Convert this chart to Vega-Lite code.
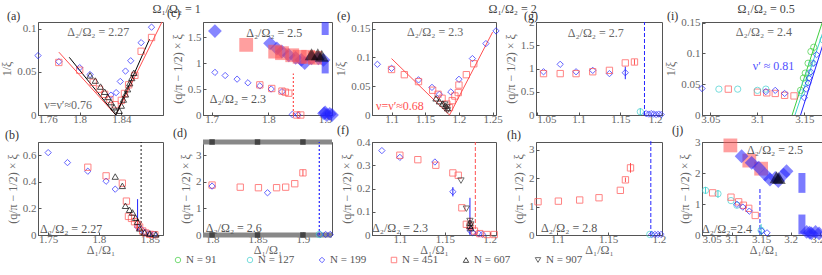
{
"$schema":"https://vega.github.io/schema/vega-lite/v6.json",
"padding":{"left":0,"top":1,"right":0,"bottom":0},
"config":{
 "view":{"stroke":"#555","strokeWidth":1},
 "axis":{"format":"~g","labelFont":"Liberation Serif","labelFontSize":11,"labelColor":"#666","titleFont":"Liberation Serif","titleFontSize":12,"titleFontWeight":"normal","titleColor":"#666","grid":false,"domainColor":"#555","tickColor":"#555","tickSize":-3,"labelPadding":5,"titlePadding":3},
 "axisX":{"labelPadding":1,"titlePadding":0},
 "title":{"font":"Liberation Serif","fontSize":12,"fontWeight":"normal","color":"#333","anchor":"start","frame":"group","offset":-1,"baseline":"alphabetic"}
},
"datasets":{"d":[
{"p":"a","k":"o","s":"199","x":1.76,"y":0.069},{"p":"a","k":"o","s":"199","x":1.78,"y":0.062},{"p":"a","k":"o","s":"199","x":1.8,"y":0.055},{"p":"a","k":"o","s":"199","x":1.81,"y":0.047},{"p":"a","k":"o","s":"199","x":1.83,"y":0.023},{"p":"a","k":"o","s":"199","x":1.835,"y":0.026},{"p":"a","k":"o","s":"199","x":1.839,"y":0.039},{"p":"a","k":"o","s":"199","x":1.844,"y":0.051},{"p":"a","k":"o","s":"199","x":1.849,"y":0.063},{"p":"a","k":"o","s":"199","x":1.859,"y":0.084},{"p":"a","k":"o","s":"199","x":1.869,"y":0.102},
{"p":"a","k":"o","s":"451","x":1.78,"y":0.061},{"p":"a","k":"o","s":"451","x":1.8,"y":0.052},{"p":"a","k":"o","s":"451","x":1.813,"y":0.038},{"p":"a","k":"o","s":"451","x":1.819,"y":0.03},{"p":"a","k":"o","s":"451","x":1.824,"y":0.024},{"p":"a","k":"o","s":"451","x":1.829,"y":0.018},{"p":"a","k":"o","s":"451","x":1.834,"y":0.012},{"p":"a","k":"o","s":"451","x":1.84,"y":0.017},{"p":"a","k":"o","s":"451","x":1.843,"y":0.025},{"p":"a","k":"o","s":"451","x":1.847,"y":0.035},{"p":"a","k":"o","s":"451","x":1.853,"y":0.046},{"p":"a","k":"o","s":"451","x":1.859,"y":0.074},{"p":"a","k":"o","s":"451","x":1.869,"y":0.09},
{"p":"a","k":"o","s":"607","x":1.81,"y":0.046},{"p":"a","k":"o","s":"607","x":1.815,"y":0.04},{"p":"a","k":"o","s":"607","x":1.82,"y":0.033},{"p":"a","k":"o","s":"607","x":1.824,"y":0.027},{"p":"a","k":"o","s":"607","x":1.827,"y":0.021},{"p":"a","k":"o","s":"607","x":1.83,"y":0.015},{"p":"a","k":"o","s":"607","x":1.833,"y":0.009},{"p":"a","k":"o","s":"607","x":1.838,"y":0.005},{"p":"a","k":"o","s":"607","x":1.84,"y":0.011},{"p":"a","k":"o","s":"607","x":1.842,"y":0.018},{"p":"a","k":"o","s":"607","x":1.844,"y":0.024},{"p":"a","k":"o","s":"607","x":1.846,"y":0.03},{"p":"a","k":"o","s":"607","x":1.848,"y":0.037},{"p":"a","k":"o","s":"607","x":1.85,"y":0.043},{"p":"a","k":"o","s":"607","x":1.852,"y":0.049},
{"p":"a","k":"o","s":"907","x":1.835,"y":0.004},
{"p":"a","k":"l","s":"451","x":1.78,"y":0.073},{"p":"a","k":"l","s":"451","x":1.8347,"y":0},{"p":"a","k":"l","s":"451","x":1.879,"y":0.108},
{"p":"a","k":"l","s":"607","x":1.79,"y":0.067},{"p":"a","k":"l","s":"607","x":1.8347,"y":0},{"p":"a","k":"l","s":"607","x":1.867,"y":0.088},
{"p":"a","k":"t","x":1.788,"y":0.096,"t":"Δ₂/Ω₂ = 2.27"},{"p":"a","k":"t","x":1.766,"y":0.0115,"t":"ν=ν′≈0.76"},

{"p":"b","k":"o","s":"199","x":1.75,"y":0.62},{"p":"b","k":"o","s":"199","x":1.769,"y":0.545},{"p":"b","k":"o","s":"199","x":1.789,"y":0.48},{"p":"b","k":"o","s":"199","x":1.807,"y":0.405},{"p":"b","k":"o","s":"199","x":1.816,"y":0.345},{"p":"b","k":"o","s":"199","x":1.838,"y":0.06},{"p":"b","k":"o","s":"199","x":1.842,"y":0.04},{"p":"b","k":"o","s":"199","x":1.846,"y":0.02},{"p":"b","k":"o","s":"199","x":1.85,"y":0.01},{"p":"b","k":"o","s":"199","x":1.854,"y":0.005},
{"p":"b","k":"o","s":"451","x":1.789,"y":0.51},{"p":"b","k":"o","s":"451","x":1.807,"y":0.445},{"p":"b","k":"o","s":"451","x":1.823,"y":0.39},{"p":"b","k":"o","s":"451","x":1.827,"y":0.255},{"p":"b","k":"o","s":"451","x":1.829,"y":0.14},{"p":"b","k":"o","s":"451","x":1.832,"y":0.125},{"p":"b","k":"o","s":"451","x":1.835,"y":0.1},{"p":"b","k":"o","s":"451","x":1.838,"y":0.08},{"p":"b","k":"o","s":"451","x":1.84,"y":0.06},{"p":"b","k":"o","s":"451","x":1.843,"y":0.03},{"p":"b","k":"o","s":"451","x":1.846,"y":0.015},{"p":"b","k":"o","s":"451","x":1.85,"y":0.005},{"p":"b","k":"o","s":"451","x":1.855,"y":0.002},
{"p":"b","k":"o","s":"607","x":1.816,"y":0.44},{"p":"b","k":"o","s":"607","x":1.823,"y":0.37},{"p":"b","k":"o","s":"607","x":1.826,"y":0.22},{"p":"b","k":"o","s":"607","x":1.83,"y":0.19},{"p":"b","k":"o","s":"607","x":1.833,"y":0.17},{"p":"b","k":"o","s":"607","x":1.836,"y":0.13},{"p":"b","k":"o","s":"607","x":1.838,"y":0.1},{"p":"b","k":"o","s":"607","x":1.84,"y":0.05},{"p":"b","k":"o","s":"607","x":1.845,"y":0.02},{"p":"b","k":"o","s":"607","x":1.85,"y":0.01},{"p":"b","k":"o","s":"607","x":1.856,"y":0.005},
{"p":"b","k":"e","s":"199","x":1.838,"y":0.03,"y2":0.27},{"p":"b","k":"e","s":"451","x":1.838,"y":0.04,"y2":0.11},
{"p":"b","k":"v","s":"607","x":1.8415,"y":0,"y2":0.7},
{"p":"b","k":"t","x":1.742,"y":0.045,"t":"Δ₂/Ω₂ = 2.27"},

{"p":"c","k":"f","s":"199","x":1.706,"y":1.615},{"p":"c","k":"f","s":"199","x":1.803,"y":1.38},{"p":"c","k":"f","s":"199","x":1.815,"y":1.28},{"p":"c","k":"f","s":"199","x":1.824,"y":1.22},{"p":"c","k":"f","s":"199","x":1.836,"y":1.15},{"p":"c","k":"f","s":"199","x":1.848,"y":1.1},{"p":"c","k":"f","s":"199","x":1.858,"y":1.06},{"p":"c","k":"f","s":"199","x":1.864,"y":1.0},{"p":"c","k":"f","s":"199","x":1.876,"y":1.09},{"p":"c","k":"f","s":"199","x":1.888,"y":1.09},{"p":"c","k":"f","s":"199","x":1.897,"y":1.06},{"p":"c","k":"f","s":"199","x":1.898,"y":0.03},{"p":"c","k":"f","s":"199","x":1.903,"y":0.0},{"p":"c","k":"f","s":"199","x":1.908,"y":0.02},{"p":"c","k":"f","s":"199","x":1.9,"y":0.05},{"p":"c","k":"f","s":"199","x":1.912,"y":0.0},
{"p":"c","k":"f","s":"451","x":1.761,"y":1.35},{"p":"c","k":"f","s":"451","x":1.812,"y":1.22},{"p":"c","k":"f","s":"451","x":1.824,"y":1.19},{"p":"c","k":"f","s":"451","x":1.842,"y":1.15},{"p":"c","k":"f","s":"451","x":1.855,"y":1.12},{"p":"c","k":"f","s":"451","x":1.87,"y":1.12},{"p":"c","k":"f","s":"451","x":1.882,"y":1.1},
{"p":"c","k":"f","s":"607","x":1.876,"y":1.17},{"p":"c","k":"f","s":"607","x":1.887,"y":1.17},{"p":"c","k":"f","s":"607","x":1.894,"y":1.14},
{"p":"c","k":"o","s":"199","x":1.706,"y":0.82},{"p":"c","k":"o","s":"199","x":1.724,"y":0.76},{"p":"c","k":"o","s":"199","x":1.745,"y":0.69},{"p":"c","k":"o","s":"199","x":1.764,"y":0.62},{"p":"c","k":"o","s":"199","x":1.785,"y":0.56},{"p":"c","k":"o","s":"199","x":1.805,"y":0.5},{"p":"c","k":"o","s":"199","x":1.824,"y":0.45},{"p":"c","k":"o","s":"199","x":1.842,"y":0.01},{"p":"c","k":"o","s":"199","x":1.852,"y":0.0},
{"p":"c","k":"o","s":"451","x":1.785,"y":0.58},{"p":"c","k":"o","s":"451","x":1.806,"y":0.51},{"p":"c","k":"o","s":"451","x":1.824,"y":0.46},{"p":"c","k":"o","s":"451","x":1.83,"y":0.44},{"p":"c","k":"o","s":"451","x":1.836,"y":0.42},{"p":"c","k":"o","s":"451","x":1.85,"y":0.0},{"p":"c","k":"o","s":"451","x":1.857,"y":0.0},
{"p":"c","k":"r","s":"199","x":1.9,"y":1.54,"y2":1.79},{"p":"c","k":"r","s":"199","x":1.9,"y":0.8,"y2":1.06},
{"p":"c","k":"v","s":"451","x":1.844,"y":0,"y2":0.8},
{"p":"c","k":"t","x":1.761,"y":1.57,"t":"Δ₂/Ω₂ = 2.5"},{"p":"c","k":"t","x":1.697,"y":0.31,"t":"Δ₂/Ω₂ = 2.3"},

{"p":"d","k":"g","x":1.79,"x2":1.932,"y":0},{"p":"d","k":"g","x":1.79,"x2":1.932,"y":3.5},
{"p":"d","k":"q","x":1.8,"y":0},{"p":"d","k":"q","x":1.85,"y":0},{"p":"d","k":"q","x":1.9,"y":0},{"p":"d","k":"q","x":1.8,"y":3.5},{"p":"d","k":"q","x":1.85,"y":3.5},{"p":"d","k":"q","x":1.9,"y":3.5},
{"p":"d","k":"o","s":"451","x":1.8,"y":1.88},{"p":"d","k":"o","s":"451","x":1.831,"y":1.8},{"p":"d","k":"o","s":"451","x":1.851,"y":1.78},{"p":"d","k":"o","s":"451","x":1.871,"y":1.78},{"p":"d","k":"o","s":"451","x":1.881,"y":1.8},{"p":"d","k":"o","s":"451","x":1.891,"y":1.93},{"p":"d","k":"o","s":"451","x":1.9,"y":2.34},
{"p":"d","k":"o","s":"199","x":1.8,"y":1.84},{"p":"d","k":"o","s":"199","x":1.861,"y":1.59},{"p":"d","k":"o","s":"199","x":1.919,"y":0.02},{"p":"d","k":"o","s":"199","x":1.925,"y":0.02},{"p":"d","k":"o","s":"199","x":1.93,"y":0.02},{"p":"d","k":"o","s":"127","x":1.918,"y":0.02},
{"p":"d","k":"e","s":"451","x":1.9,"y":2.22,"y2":2.46},
{"p":"d","k":"v","s":"199","x":1.918,"y":0,"y2":3.5},
{"p":"d","k":"t","x":1.793,"y":0.25,"t":"Δ₂/Ω₂ = 2.6"},

{"p":"e","k":"o","s":"199","x":1.079,"y":0.088},{"p":"e","k":"o","s":"199","x":1.1,"y":0.081},{"p":"e","k":"o","s":"199","x":1.14,"y":0.061},{"p":"e","k":"o","s":"199","x":1.16,"y":0.048},{"p":"e","k":"o","s":"199","x":1.171,"y":0.036},{"p":"e","k":"o","s":"199","x":1.188,"y":0.04},{"p":"e","k":"o","s":"199","x":1.2,"y":0.062},{"p":"e","k":"o","s":"199","x":1.22,"y":0.098},{"p":"e","k":"o","s":"199","x":1.24,"y":0.124},{"p":"e","k":"o","s":"199","x":1.255,"y":0.146},
{"p":"e","k":"o","s":"451","x":1.1,"y":0.079},{"p":"e","k":"o","s":"451","x":1.119,"y":0.07},{"p":"e","k":"o","s":"451","x":1.14,"y":0.058},{"p":"e","k":"o","s":"451","x":1.161,"y":0.043},{"p":"e","k":"o","s":"451","x":1.169,"y":0.036},{"p":"e","k":"o","s":"451","x":1.175,"y":0.029},{"p":"e","k":"o","s":"451","x":1.182,"y":0.019},{"p":"e","k":"o","s":"451","x":1.186,"y":0.013},{"p":"e","k":"o","s":"451","x":1.19,"y":0.025},{"p":"e","k":"o","s":"451","x":1.194,"y":0.033},{"p":"e","k":"o","s":"451","x":1.199,"y":0.039},{"p":"e","k":"o","s":"451","x":1.2,"y":0.052},{"p":"e","k":"o","s":"451","x":1.211,"y":0.07},{"p":"e","k":"o","s":"451","x":1.222,"y":0.089},
{"p":"e","k":"o","s":"607","x":1.166,"y":0.029},{"p":"e","k":"o","s":"607","x":1.171,"y":0.024},{"p":"e","k":"o","s":"607","x":1.176,"y":0.02},{"p":"e","k":"o","s":"607","x":1.18,"y":0.016},{"p":"e","k":"o","s":"607","x":1.183,"y":0.012},
{"p":"e","k":"o","s":"907","x":1.179,"y":0.018},{"p":"e","k":"o","s":"907","x":1.182,"y":0.013},{"p":"e","k":"o","s":"907","x":1.183,"y":0.008},
{"p":"e","k":"l","s":"451","x":1.1,"y":0.098},{"p":"e","k":"l","s":"451","x":1.186,"y":0},{"p":"e","k":"l","s":"451","x":1.25,"y":0.144},
{"p":"e","k":"t","x":1.123,"y":0.145,"t":"Δ₂/Ω₂ = 2.3"},{"p":"e","k":"tc","s":"451","x":1.077,"y":0.016,"t":"ν=ν′≈0.68"},

{"p":"f","k":"o","s":"199","x":1.08,"y":0.363},{"p":"f","k":"o","s":"199","x":1.1,"y":0.334},{"p":"f","k":"o","s":"199","x":1.139,"y":0.314},{"p":"f","k":"o","s":"199","x":1.159,"y":0.186},{"p":"f","k":"o","s":"199","x":1.178,"y":0.02},{"p":"f","k":"o","s":"199","x":1.181,"y":0.01},{"p":"f","k":"o","s":"199","x":1.188,"y":0.005},{"p":"f","k":"o","s":"199","x":1.192,"y":0.003},
{"p":"f","k":"o","s":"451","x":1.1,"y":0.343},{"p":"f","k":"o","s":"451","x":1.12,"y":0.324},{"p":"f","k":"o","s":"451","x":1.14,"y":0.3},{"p":"f","k":"o","s":"451","x":1.159,"y":0.267},{"p":"f","k":"o","s":"451","x":1.165,"y":0.257},{"p":"f","k":"o","s":"451","x":1.169,"y":0.117},{"p":"f","k":"o","s":"451","x":1.174,"y":0.046},{"p":"f","k":"o","s":"451","x":1.178,"y":0.039},{"p":"f","k":"o","s":"451","x":1.183,"y":0.017},{"p":"f","k":"o","s":"451","x":1.189,"y":0.006},{"p":"f","k":"o","s":"451","x":1.197,"y":0.002},{"p":"f","k":"o","s":"451","x":1.205,"y":0.002},
{"p":"f","k":"o","s":"607","x":1.178,"y":0.053},{"p":"f","k":"o","s":"607","x":1.178,"y":0.04},{"p":"f","k":"o","s":"607","x":1.179,"y":0.03},
{"p":"f","k":"o","s":"907","x":1.168,"y":0.234},{"p":"f","k":"o","s":"907","x":1.174,"y":0.113},{"p":"f","k":"o","s":"907","x":1.178,"y":0.06},{"p":"f","k":"o","s":"907","x":1.179,"y":0.045},
{"p":"f","k":"e","s":"199","x":1.159,"y":0.166,"y2":0.206},{"p":"f","k":"e","s":"199","x":1.178,"y":0.0,"y2":0.16},{"p":"f","k":"e","s":"451","x":1.178,"y":0.02,"y2":0.075},
{"p":"f","k":"v","s":"451","x":1.184,"y":0,"y2":0.4},
{"p":"f","k":"t","x":1.069,"y":0.03,"t":"Δ₂/Ω₂ = 2.3"},

{"p":"g","k":"o","s":"199","x":1.058,"y":0.93},{"p":"g","k":"o","s":"199","x":1.078,"y":1.09},{"p":"g","k":"o","s":"199","x":1.097,"y":0.93},{"p":"g","k":"o","s":"199","x":1.117,"y":0.96},{"p":"g","k":"o","s":"199","x":1.137,"y":0.89},{"p":"g","k":"o","s":"199","x":1.156,"y":0.91},{"p":"g","k":"o","s":"199","x":1.181,"y":0.03},{"p":"g","k":"o","s":"199","x":1.184,"y":0.02},{"p":"g","k":"o","s":"199","x":1.187,"y":0.03},{"p":"g","k":"o","s":"199","x":1.19,"y":0.02},{"p":"g","k":"o","s":"199","x":1.193,"y":0.01},{"p":"g","k":"o","s":"199","x":1.196,"y":0.02},{"p":"g","k":"o","s":"199","x":1.199,"y":0.01},
{"p":"g","k":"o","s":"451","x":1.058,"y":0.89},{"p":"g","k":"o","s":"451","x":1.078,"y":0.89},{"p":"g","k":"o","s":"451","x":1.097,"y":0.89},{"p":"g","k":"o","s":"451","x":1.117,"y":0.93},{"p":"g","k":"o","s":"451","x":1.137,"y":0.96},{"p":"g","k":"o","s":"451","x":1.156,"y":1.12},{"p":"g","k":"o","s":"451","x":1.167,"y":1.14},
{"p":"g","k":"o","s":"127","x":1.174,"y":0.07},
{"p":"g","k":"e","s":"199","x":1.156,"y":0.77,"y2":1.04},{"p":"g","k":"e","s":"451","x":1.167,"y":1.08,"y2":1.2},{"p":"g","k":"e","s":"127","x":1.174,"y":0.0,"y2":0.15},
{"p":"g","k":"v","s":"199","x":1.179,"y":0,"y2":2},
{"p":"g","k":"t","x":1.087,"y":1.77,"t":"Δ₂/Ω₂ = 2.7"},

{"p":"h","k":"o","s":"451","x":1.081,"y":1.17},{"p":"h","k":"o","s":"451","x":1.101,"y":1.19},{"p":"h","k":"o","s":"451","x":1.122,"y":1.23},{"p":"h","k":"o","s":"451","x":1.141,"y":1.31},{"p":"h","k":"o","s":"451","x":1.162,"y":1.57},{"p":"h","k":"o","s":"451","x":1.167,"y":1.94},{"p":"h","k":"o","s":"451","x":1.172,"y":2.36},
{"p":"h","k":"o","s":"127","x":1.191,"y":0.02},{"p":"h","k":"o","s":"199","x":1.193,"y":0.02},{"p":"h","k":"o","s":"199","x":1.196,"y":0.02},{"p":"h","k":"o","s":"199","x":1.199,"y":0.02},{"p":"h","k":"o","s":"199","x":1.202,"y":0.02},
{"p":"h","k":"e","s":"451","x":1.167,"y":1.86,"y2":2.02},{"p":"h","k":"e","s":"451","x":1.172,"y":2.19,"y2":2.53},
{"p":"h","k":"v","s":"199","x":1.192,"y":0,"y2":3.3},
{"p":"h","k":"t","x":1.084,"y":0.23,"t":"Δ₂/Ω₂ = 2.8"},

{"p":"i","k":"o","s":"451","x":3.069,"y":0.042},{"p":"i","k":"o","s":"451","x":3.1,"y":0.037},{"p":"i","k":"o","s":"451","x":3.11,"y":0.036},{"p":"i","k":"o","s":"451","x":3.119,"y":0.035},{"p":"i","k":"o","s":"451","x":3.129,"y":0.032},{"p":"i","k":"o","s":"451","x":3.139,"y":0.031},
{"p":"i","k":"o","s":"127","x":3.059,"y":0.042},{"p":"i","k":"o","s":"127","x":3.079,"y":0.042},{"p":"i","k":"o","s":"127","x":3.1,"y":0.04},{"p":"i","k":"o","s":"127","x":3.109,"y":0.042},{"p":"i","k":"o","s":"127","x":3.147,"y":0.036},{"p":"i","k":"o","s":"127","x":3.151,"y":0.052},{"p":"i","k":"o","s":"127","x":3.155,"y":0.068},{"p":"i","k":"o","s":"127","x":3.158,"y":0.084},{"p":"i","k":"o","s":"127","x":3.17,"y":0.122},
{"p":"i","k":"o","s":"91","x":3.146,"y":0.04},{"p":"i","k":"o","s":"91","x":3.149,"y":0.06},{"p":"i","k":"o","s":"91","x":3.151,"y":0.068},{"p":"i","k":"o","s":"91","x":3.154,"y":0.084},{"p":"i","k":"o","s":"91","x":3.157,"y":0.103},{"p":"i","k":"o","s":"91","x":3.16,"y":0.11},
{"p":"i","k":"o","s":"199","x":3.041,"y":0.043},{"p":"i","k":"o","s":"199","x":3.109,"y":0.038},{"p":"i","k":"o","s":"199","x":3.119,"y":0.04},{"p":"i","k":"o","s":"199","x":3.129,"y":0.035},{"p":"i","k":"o","s":"199","x":3.15,"y":0.028},{"p":"i","k":"o","s":"199","x":3.152,"y":0.042},{"p":"i","k":"o","s":"199","x":3.154,"y":0.052},{"p":"i","k":"o","s":"199","x":3.155,"y":0.06},{"p":"i","k":"o","s":"199","x":3.157,"y":0.07},{"p":"i","k":"o","s":"199","x":3.16,"y":0.084},{"p":"i","k":"o","s":"199","x":3.163,"y":0.098},
{"p":"i","k":"l","s":"91","x":3.137,"y":0},{"p":"i","k":"l","s":"91","x":3.169,"y":0.15},{"p":"i","k":"l","s":"127","x":3.14,"y":0},{"p":"i","k":"l","s":"127","x":3.171,"y":0.14},{"p":"i","k":"l","s":"199","x":3.146,"y":0},{"p":"i","k":"l","s":"199","x":3.172,"y":0.125},
{"p":"i","k":"t","x":3.077,"y":0.135,"t":"Δ₂/Ω₂ = 2.4"},{"p":"i","k":"tc","s":"199","x":3.095,"y":0.079,"t":"ν′ ≈ 0.81"},

{"p":"j","k":"o","s":"127","x":3.056,"y":1.44},{"p":"j","k":"o","s":"127","x":3.077,"y":1.33},{"p":"j","k":"o","s":"127","x":3.099,"y":1.11},{"p":"j","k":"o","s":"127","x":3.109,"y":0.96},{"p":"j","k":"o","s":"127","x":3.15,"y":0.15},
{"p":"j","k":"o","s":"451","x":3.068,"y":1.36},{"p":"j","k":"o","s":"451","x":3.099,"y":1.22},{"p":"j","k":"o","s":"451","x":3.112,"y":1.07},{"p":"j","k":"o","s":"451","x":3.12,"y":0.96},{"p":"j","k":"o","s":"451","x":3.129,"y":0.86},{"p":"j","k":"o","s":"451","x":3.14,"y":0.63},
{"p":"j","k":"o","s":"199","x":3.109,"y":0.99},{"p":"j","k":"o","s":"199","x":3.119,"y":0.9},{"p":"j","k":"o","s":"199","x":3.13,"y":0.77},{"p":"j","k":"o","s":"199","x":3.151,"y":0.13},{"p":"j","k":"o","s":"199","x":3.16,"y":0.07},
{"p":"j","k":"f","s":"451","x":3.098,"y":2.89},{"p":"j","k":"f","s":"451","x":3.13,"y":2.4},{"p":"j","k":"f","s":"451","x":3.15,"y":2.14},
{"p":"j","k":"f","s":"199","x":3.117,"y":2.54},{"p":"j","k":"f","s":"199","x":3.134,"y":2.33},{"p":"j","k":"f","s":"199","x":3.146,"y":2.17},{"p":"j","k":"f","s":"199","x":3.157,"y":1.95},{"p":"j","k":"f","s":"199","x":3.165,"y":1.79},{"p":"j","k":"f","s":"199","x":3.174,"y":1.84},{"p":"j","k":"f","s":"199","x":3.179,"y":1.74},{"p":"j","k":"f","s":"199","x":3.188,"y":1.95},{"p":"j","k":"f","s":"199","x":3.193,"y":2.06},{"p":"j","k":"f","s":"199","x":3.227,"y":0.1},{"p":"j","k":"f","s":"199","x":3.235,"y":0.05},{"p":"j","k":"f","s":"199","x":3.242,"y":0.1},{"p":"j","k":"f","s":"199","x":3.248,"y":0.05},{"p":"j","k":"f","s":"199","x":3.232,"y":0.08},
{"p":"j","k":"f","s":"607","x":3.176,"y":1.86},{"p":"j","k":"f","s":"607","x":3.18,"y":1.84},
{"p":"j","k":"r","s":"199","x":3.219,"y":1.36,"y2":2.0},{"p":"j","k":"r","s":"199","x":3.219,"y":0.02,"y2":0.66},
{"p":"j","k":"e","s":"127","x":3.056,"y":1.33,"y2":1.55},{"p":"j","k":"e","s":"127","x":3.077,"y":1.2,"y2":1.45},{"p":"j","k":"e","s":"127","x":3.15,"y":0.0,"y2":0.35},
{"p":"j","k":"v","s":"199","x":3.148,"y":0,"y2":1.5},
{"p":"j","k":"t","x":3.126,"y":2.75,"t":"Δ₂/Ω₂ = 2.5"},{"p":"j","k":"t","x":3.05,"y":0.18,"t":"Δ₂/Ω₂=2.4"}
]},
"data":{"name":"d"},
"spacing":-2,
"vconcat":[
{"columns":5,"bounds":"flush","spacing":{"row":27,"column":40},"concat":[
 {"title":{"text":"(a)","dx":-31,"offset":-21},"width":125,"height":93,"resolve":{"axis":{"x":"independent"}},
  "layer":[
  {"encoding":{"x":{"field":"x","type":"quantitative","scale":{"domain":[1.76,1.88],"nice":false,"zero":false},"axis":{"values":[1.76,1.8,1.84],"title":null}},
   "y":{"field":"y","type":"quantitative","scale":{"domain":[0,0.108],"nice":false,"zero":false},"axis":{"values":[0,0.05,0.1],"title":"1/ξ"}}},
  "layer":[
   {"transform":[{"filter":"datum.p=='a'&&datum.k=='l'"}],"mark":{"type":"line","strokeWidth":1},"encoding":{"color":{"field":"s","type":"nominal","scale":{"domain":["91","127","199","451","607","907"],"range":["#3fcf3f","#3fd0d0","#2323ff","#ff5050","#000000","#303030"]},"legend":null}}},
   {"transform":[{"filter":"datum.p=='a'&&datum.k=='o'"}],"mark":{"type":"point","filled":false,"size":40,"strokeWidth":1},"encoding":{"shape":{"field":"s","type":"nominal","scale":{"domain":["91","127","199","451","607","907"],"range":["circle","circle","diamond","square","triangle-up","triangle-down"]},"legend":null},"color":{"field":"s","type":"nominal","legend":null}}},
   {"transform":[{"filter":"datum.p=='a'&&datum.k=='t'"}],"mark":{"type":"text","align":"left","font":"Liberation Serif","fontSize":12,"color":"#666"},"encoding":{"text":{"field":"t","type":"nominal"}}}
  ]},
  {"transform":[{"filter":"datum.p=='zz'"}],"mark":{"type":"point"},"encoding":{"x":{"field":"x","type":"quantitative","axis":{"orient":"top","labels":false,"ticks":false,"domain":false,"title":"Ω₁/Ω₂ = 1","titleX":114,"titleY":-10,"titleAlign":"left","titleAnchor":null,"titleBaseline":"alphabetic","titleAngle":0,"titleColor":"#444"}}}}
  ]},
 {"title":{"text":"(c)","dx":-36},"width":129,"height":93,
  "encoding":{"x":{"field":"x","type":"quantitative","scale":{"domain":[1.685,1.912],"nice":false,"zero":false},"axis":{"values":[1.7,1.8,1.9],"title":null}},
   "y":{"field":"y","type":"quantitative","scale":{"domain":[0,1.79],"nice":false,"zero":false},"axis":{"values":[0,0.5,1,1.5],"title":"(q/π − 1/2) × ξ"}}},
  "layer":[
   {"transform":[{"filter":"datum.p=='c'&&datum.k=='v'"}],"mark":{"type":"rule","strokeDash":[2,2],"strokeWidth":1.2},"encoding":{"y2":{"field":"y2"},"color":{"field":"s","type":"nominal","legend":null}}},
   {"transform":[{"filter":"datum.p=='c'&&datum.k=='r'"}],"mark":{"type":"rule","strokeWidth":7,"opacity":0.6},"encoding":{"y2":{"field":"y2"},"color":{"field":"s","type":"nominal","legend":null}}},
   {"transform":[{"filter":"datum.p=='c'&&datum.k=='o'"}],"mark":{"type":"point","filled":false,"size":40,"strokeWidth":1},"encoding":{"shape":{"field":"s","type":"nominal","legend":null},"color":{"field":"s","type":"nominal","legend":null}}},
   {"transform":[{"filter":"datum.p=='c'&&datum.k=='f'"}],"mark":{"type":"point","filled":true,"size":190,"opacity":0.55},"encoding":{"shape":{"field":"s","type":"nominal","legend":null},"color":{"field":"s","type":"nominal","legend":null}}},
   {"transform":[{"filter":"datum.p=='c'&&datum.k=='t'"}],"mark":{"type":"text","align":"left","font":"Liberation Serif","fontSize":12,"color":"#555"},"encoding":{"text":{"field":"t","type":"nominal"}}}
  ]},
 {"title":{"text":"(e)","dx":-35},"width":124,"height":93,
  "encoding":{"x":{"field":"x","type":"quantitative","scale":{"domain":[1.071,1.255],"nice":false,"zero":false},"axis":{"values":[1.1,1.15,1.2,1.25],"title":null}},
   "y":{"field":"y","type":"quantitative","scale":{"domain":[0,0.1615],"nice":false,"zero":false},"axis":{"values":[0,0.05,0.1,0.15],"title":"1/ξ"}}},
  "layer":[
   {"transform":[{"filter":"datum.p=='e'&&datum.k=='l'"}],"mark":{"type":"line","strokeWidth":1},"encoding":{"color":{"field":"s","type":"nominal","legend":null}}},
   {"transform":[{"filter":"datum.p=='e'&&datum.k=='o'"}],"mark":{"type":"point","filled":false,"size":40,"strokeWidth":1},"encoding":{"shape":{"field":"s","type":"nominal","legend":null},"color":{"field":"s","type":"nominal","legend":null}}},
   {"transform":[{"filter":"datum.p=='e'&&datum.k=='t'"}],"mark":{"type":"text","align":"left","font":"Liberation Serif","fontSize":12,"color":"#666"},"encoding":{"text":{"field":"t","type":"nominal"}}},
   {"transform":[{"filter":"datum.p=='e'&&datum.k=='tc'"}],"mark":{"type":"text","align":"left","font":"Liberation Serif","fontSize":12},"encoding":{"text":{"field":"t","type":"nominal"},"color":{"field":"s","type":"nominal","legend":null}}}
  ]},
 {"title":{"text":"(g)","dx":-12,"offset":-21},"width":126,"height":93,"resolve":{"axis":{"x":"independent"}},
  "layer":[
  {"encoding":{"x":{"field":"x","type":"quantitative","scale":{"domain":[1.049,1.2],"nice":false,"zero":false},"axis":{"values":[1.05,1.1,1.15,1.2],"title":null}},
   "y":{"field":"y","type":"quantitative","scale":{"domain":[0,2],"nice":false,"zero":false},"axis":{"values":[0,0.5,1,1.5,2],"title":"(q/π − 1/2) × ξ"}}},
  "layer":[
   {"transform":[{"filter":"datum.p=='g'&&datum.k=='v'"}],"mark":{"type":"rule","strokeDash":[4,2],"strokeWidth":1},"encoding":{"y2":{"field":"y2"},"color":{"field":"s","type":"nominal","legend":null}}},
   {"transform":[{"filter":"datum.p=='g'&&datum.k=='e'"}],"mark":{"type":"rule"},"encoding":{"y2":{"field":"y2"},"color":{"field":"s","type":"nominal","legend":null}}},
   {"transform":[{"filter":"datum.p=='g'&&datum.k=='o'"}],"mark":{"type":"point","filled":false,"size":40,"strokeWidth":1},"encoding":{"shape":{"field":"s","type":"nominal","legend":null},"color":{"field":"s","type":"nominal","legend":null}}},
   {"transform":[{"filter":"datum.p=='g'&&datum.k=='t'"}],"mark":{"type":"text","align":"left","font":"Liberation Serif","fontSize":12,"color":"#666"},"encoding":{"text":{"field":"t","type":"nominal"}}}
  ]},
  {"transform":[{"filter":"datum.p=='zz'"}],"mark":{"type":"point"},"encoding":{"x":{"field":"x","type":"quantitative","axis":{"orient":"top","labels":false,"ticks":false,"domain":false,"title":"Ω₁/Ω₂ = 2","titleX":-48,"titleY":-10,"titleAlign":"left","titleAnchor":null,"titleBaseline":"alphabetic","titleAngle":0,"titleColor":"#444"}}}}
  ]},
 {"title":{"text":"(i)","dx":-35,"offset":-21},"width":123,"height":93,"resolve":{"axis":{"x":"independent"}},
  "layer":[
  {"encoding":{"x":{"field":"x","type":"quantitative","scale":{"domain":[3.041,3.172],"nice":false,"zero":false},"axis":{"values":[3.05,3.1,3.15],"title":null}},
   "y":{"field":"y","type":"quantitative","scale":{"domain":[0,0.151],"nice":false,"zero":false},"axis":{"values":[0,0.05,0.1,0.15],"title":"1/ξ"}}},
  "layer":[
   {"transform":[{"filter":"datum.p=='i'&&datum.k=='l'"}],"mark":{"type":"line","strokeWidth":1},"encoding":{"color":{"field":"s","type":"nominal","legend":null}}},
   {"transform":[{"filter":"datum.p=='i'&&datum.k=='o'"}],"mark":{"type":"point","filled":false,"size":40,"strokeWidth":1},"encoding":{"shape":{"field":"s","type":"nominal","legend":null},"color":{"field":"s","type":"nominal","legend":null}}},
   {"transform":[{"filter":"datum.p=='i'&&datum.k=='t'"}],"mark":{"type":"text","align":"left","font":"Liberation Serif","fontSize":12,"color":"#666"},"encoding":{"text":{"field":"t","type":"nominal"}}},
   {"transform":[{"filter":"datum.p=='i'&&datum.k=='tc'"}],"mark":{"type":"text","align":"left","font":"Liberation Serif","fontSize":12,"opacity":0.8},"encoding":{"text":{"field":"t","type":"nominal"},"color":{"field":"s","type":"nominal","legend":null}}}
  ]},
  {"transform":[{"filter":"datum.p=='zz'"}],"mark":{"type":"point"},"encoding":{"x":{"field":"x","type":"quantitative","axis":{"orient":"top","labels":false,"ticks":false,"domain":false,"title":"Ω₁/Ω₂ = 0.5","titleX":35,"titleY":-10,"titleAlign":"left","titleAnchor":null,"titleBaseline":"alphabetic","titleAngle":0,"titleColor":"#444"}}}}
  ]},

 {"title":{"text":"(b)","dx":-33},"width":125,"height":93,
  "encoding":{"x":{"field":"x","type":"quantitative","scale":{"domain":[1.74,1.863],"nice":false,"zero":false},"axis":{"values":[1.75,1.8,1.85],"title":"Δ₁/Ω₁"}},
   "y":{"field":"y","type":"quantitative","scale":{"domain":[0,0.7],"nice":false,"zero":false},"axis":{"values":[0,0.2,0.4,0.6],"title":"(q/π − 1/2) × ξ"}}},
  "layer":[
   {"transform":[{"filter":"datum.p=='b'&&datum.k=='v'"}],"mark":{"type":"rule","strokeDash":[2,2],"strokeWidth":1.5,"opacity":0.6},"encoding":{"y2":{"field":"y2"},"color":{"field":"s","type":"nominal","legend":null}}},
   {"transform":[{"filter":"datum.p=='b'&&datum.k=='e'"}],"mark":{"type":"rule"},"encoding":{"y2":{"field":"y2"},"color":{"field":"s","type":"nominal","legend":null}}},
   {"transform":[{"filter":"datum.p=='b'&&datum.k=='o'"}],"mark":{"type":"point","filled":false,"size":40,"strokeWidth":1},"encoding":{"shape":{"field":"s","type":"nominal","legend":null},"color":{"field":"s","type":"nominal","legend":null}}},
   {"transform":[{"filter":"datum.p=='b'&&datum.k=='t'"}],"mark":{"type":"text","align":"left","font":"Liberation Serif","fontSize":12,"color":"#555"},"encoding":{"text":{"field":"t","type":"nominal"}}}
  ]},
 {"title":{"text":"(d)","dx":-30},"width":129,"height":93,
  "encoding":{"x":{"field":"x","type":"quantitative","scale":{"domain":[1.79,1.932],"nice":false,"zero":false},"axis":{"values":[1.8,1.85,1.9],"title":"Δ₁/Ω₁"}},
   "y":{"field":"y","type":"quantitative","scale":{"domain":[0,3.5],"nice":false,"zero":false},"axis":{"values":[0,1,2,3],"title":"(q/π − 1/2) × ξ"}}},
  "layer":[
   {"transform":[{"filter":"datum.p=='d'&&datum.k=='g'"}],"mark":{"type":"rule","strokeWidth":5,"color":"#888"},"encoding":{"x2":{"field":"x2"}}},
   {"transform":[{"filter":"datum.p=='d'&&datum.k=='q'"}],"mark":{"type":"square","size":30,"color":"#444","opacity":1},"encoding":{}},
   {"transform":[{"filter":"datum.p=='d'&&datum.k=='v'"}],"mark":{"type":"rule","strokeDash":[2,2],"strokeWidth":1.2},"encoding":{"y2":{"field":"y2"},"color":{"field":"s","type":"nominal","legend":null}}},
   {"transform":[{"filter":"datum.p=='d'&&datum.k=='e'"}],"mark":{"type":"rule"},"encoding":{"y2":{"field":"y2"},"color":{"field":"s","type":"nominal","legend":null}}},
   {"transform":[{"filter":"datum.p=='d'&&datum.k=='o'"}],"mark":{"type":"point","filled":false,"size":40,"strokeWidth":1},"encoding":{"shape":{"field":"s","type":"nominal","legend":null},"color":{"field":"s","type":"nominal","legend":null}}},
   {"transform":[{"filter":"datum.p=='d'&&datum.k=='t'"}],"mark":{"type":"text","align":"left","font":"Liberation Serif","fontSize":12,"color":"#555"},"encoding":{"text":{"field":"t","type":"nominal"}}}
  ]},
 {"title":{"text":"(f)","dx":-35},"width":124,"height":93,
  "encoding":{"x":{"field":"x","type":"quantitative","scale":{"domain":[1.069,1.207],"nice":false,"zero":false},"axis":{"values":[1.1,1.15,1.2],"title":"Δ₁/Ω₁"}},
   "y":{"field":"y","type":"quantitative","scale":{"domain":[0,0.4],"nice":false,"zero":false},"axis":{"values":[0,0.1,0.2,0.3,0.4],"title":"(q/π − 1/2) × ξ"}}},
  "layer":[
   {"transform":[{"filter":"datum.p=='f'&&datum.k=='v'"}],"mark":{"type":"rule","strokeDash":[4,2],"strokeWidth":1},"encoding":{"y2":{"field":"y2"},"color":{"field":"s","type":"nominal","legend":null}}},
   {"transform":[{"filter":"datum.p=='f'&&datum.k=='e'"}],"mark":{"type":"rule"},"encoding":{"y2":{"field":"y2"},"color":{"field":"s","type":"nominal","legend":null}}},
   {"transform":[{"filter":"datum.p=='f'&&datum.k=='o'"}],"mark":{"type":"point","filled":false,"size":40,"strokeWidth":1},"encoding":{"shape":{"field":"s","type":"nominal","legend":null},"color":{"field":"s","type":"nominal","legend":null}}},
   {"transform":[{"filter":"datum.p=='f'&&datum.k=='t'"}],"mark":{"type":"text","align":"left","font":"Liberation Serif","fontSize":12,"color":"#555"},"encoding":{"text":{"field":"t","type":"nominal"}}}
  ]},
 {"title":{"text":"(h)","dx":-29},"width":126,"height":93,
  "encoding":{"x":{"field":"x","type":"quantitative","scale":{"domain":[1.079,1.203],"nice":false,"zero":false},"axis":{"values":[1.1,1.15,1.2],"title":"Δ₁/Ω₁"}},
   "y":{"field":"y","type":"quantitative","scale":{"domain":[0,3.27],"nice":false,"zero":false},"axis":{"values":[0,1,2,3],"title":"(q/π − 1/2) × ξ"}}},
  "layer":[
   {"transform":[{"filter":"datum.p=='h'&&datum.k=='v'"}],"mark":{"type":"rule","strokeDash":[4,2],"strokeWidth":1},"encoding":{"y2":{"field":"y2"},"color":{"field":"s","type":"nominal","legend":null}}},
   {"transform":[{"filter":"datum.p=='h'&&datum.k=='e'"}],"mark":{"type":"rule"},"encoding":{"y2":{"field":"y2"},"color":{"field":"s","type":"nominal","legend":null}}},
   {"transform":[{"filter":"datum.p=='h'&&datum.k=='o'"}],"mark":{"type":"point","filled":false,"size":40,"strokeWidth":1},"encoding":{"shape":{"field":"s","type":"nominal","legend":null},"color":{"field":"s","type":"nominal","legend":null}}},
   {"transform":[{"filter":"datum.p=='h'&&datum.k=='t'"}],"mark":{"type":"text","align":"left","font":"Liberation Serif","fontSize":12,"color":"#555"},"encoding":{"text":{"field":"t","type":"nominal"}}}
  ]},
 {"title":{"text":"(j)","dx":-30},"width":123,"height":93,
  "encoding":{"x":{"field":"x","type":"quantitative","scale":{"domain":[3.05,3.258],"nice":false,"zero":false},"axis":{"values":[3.05,3.1,3.15,3.2,3.25],"title":"Δ₁/Ω₁"}},
   "y":{"field":"y","type":"quantitative","scale":{"domain":[0,3],"nice":false,"zero":false},"axis":{"values":[0,1,2,3],"title":"(q/π − 1/2) × ξ"}}},
  "layer":[
   {"transform":[{"filter":"datum.p=='j'&&datum.k=='v'"}],"mark":{"type":"rule","strokeDash":[4,2],"strokeWidth":1},"encoding":{"y2":{"field":"y2"},"color":{"field":"s","type":"nominal","legend":null}}},
   {"transform":[{"filter":"datum.p=='j'&&datum.k=='r'"}],"mark":{"type":"rule","strokeWidth":7,"opacity":0.6},"encoding":{"y2":{"field":"y2"},"color":{"field":"s","type":"nominal","legend":null}}},
   {"transform":[{"filter":"datum.p=='j'&&datum.k=='e'"}],"mark":{"type":"rule"},"encoding":{"y2":{"field":"y2"},"color":{"field":"s","type":"nominal","legend":null}}},
   {"transform":[{"filter":"datum.p=='j'&&datum.k=='o'"}],"mark":{"type":"point","filled":false,"size":40,"strokeWidth":1},"encoding":{"shape":{"field":"s","type":"nominal","legend":null},"color":{"field":"s","type":"nominal","legend":null}}},
   {"transform":[{"filter":"datum.p=='j'&&datum.k=='f'"}],"mark":{"type":"point","filled":true,"size":190,"opacity":0.55},"encoding":{"shape":{"field":"s","type":"nominal","legend":null},"color":{"field":"s","type":"nominal","legend":null}}},
   {"transform":[{"filter":"datum.p=='j'&&datum.k=='t'"}],"mark":{"type":"text","align":"left","font":"Liberation Serif","fontSize":12,"color":"#555"},"encoding":{"text":{"field":"t","type":"nominal"}}}
  ]}
]},
{"width":706,"height":8,"view":{"stroke":null},
 "data":{"values":[{"s":"91","i":0,"t":"N = 91"},{"s":"127","i":1,"t":"N = 127"},{"s":"199","i":2,"t":"N = 199"},{"s":"451","i":3,"t":"N = 451"},{"s":"607","i":4,"t":"N = 607"},{"s":"907","i":5,"t":"N = 907"}]},
 "encoding":{"x":{"field":"i","type":"quantitative","scale":{"domain":[-1.944,7.861],"nice":false,"zero":false},"axis":null}},
 "layer":[
  {"mark":{"type":"point","filled":false,"size":30,"strokeWidth":1},"encoding":{"shape":{"field":"s","type":"nominal","legend":null},"color":{"field":"s","type":"nominal","legend":null}}},
  {"mark":{"type":"text","align":"left","dx":8,"font":"Liberation Serif","fontSize":11,"color":"#555"},"encoding":{"text":{"field":"t","type":"nominal"}}}
 ]}
]
}
